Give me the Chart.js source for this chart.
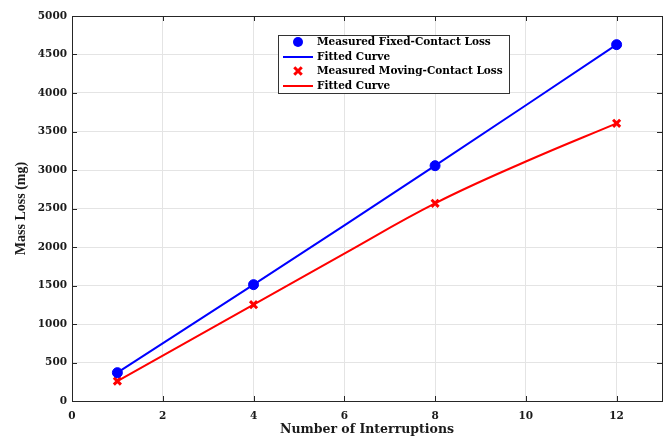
<!DOCTYPE html>
<html>
<head>
<meta charset="utf-8">
<script src="https://cdn.jsdelivr.net/npm/chart.js@4.4.1/dist/chart.umd.min.js"></script>
<style>
  html, body { margin: 0; padding: 0; background: #fff; overflow: hidden; }
</style>
</head>
<body>
<canvas id="lossChart" width="665" height="438"></canvas>
<script>
// measured values
const interruptions = [1, 4, 8, 12];
const fixedLoss = [368, 1511, 3056, 4628];
const movingLoss = [258, 1251, 2567, 3606];

// fitted curves
const fixedFitX = [1, 4, 8, 12];
const fixedFit = [368, 1511, 3056, 4628];
const movingFitX = [1, 4, 6, 8, 10, 12];
const movingFit = [258, 1251, 1915, 2567, 3110, 3606];

const xTicks = [0, 2, 4, 6, 8, 10, 12];
const yTicks = [0, 500, 1000, 1500, 2000, 2500, 3000, 3500, 4000, 4500, 5000];

const textColor = '#1a1a1a';
const fontFamily = '"DejaVu Serif", "Liberation Serif", serif';

function toPoints(xs, ys) {
    return xs.map((x, i) => ({ x: x, y: ys[i] }));
}

// axes box with inward ticks on all four sides
const boxPlugin = {
    id: 'box',
    afterDatasetsDraw(chart) {
        const { ctx, chartArea: a, scales } = chart;
        ctx.save();
        ctx.strokeStyle = '#262626';
        ctx.lineWidth = 1;
        ctx.beginPath();
        xTicks.forEach(v => {
            const px = Math.round(scales.x.getPixelForValue(v)) + 0.5;
            ctx.moveTo(px, a.bottom); ctx.lineTo(px, a.bottom - 5);
            ctx.moveTo(px, a.top); ctx.lineTo(px, a.top + 5);
        });
        yTicks.forEach(v => {
            const py = Math.round(scales.y.getPixelForValue(v)) + 0.5;
            ctx.moveTo(a.left, py); ctx.lineTo(a.left + 5, py);
            ctx.moveTo(a.right, py); ctx.lineTo(a.right - 5, py);
        });
        ctx.stroke();
        ctx.strokeRect(Math.round(a.left) + 0.5, Math.round(a.top) + 0.5,
            Math.round(a.right - a.left), Math.round(a.bottom - a.top));
        ctx.restore();
    }
};

// boxed legend like the MATLAB one
const legendPlugin = {
    id: 'boxLegend',
    afterDraw(chart) {
        const { ctx } = chart;
        const x0 = 278, y0 = 35, w = 231, h = 58;
        const rows = [42, 57, 71, 86];
        ctx.save();
        ctx.fillStyle = '#fff';
        ctx.fillRect(x0, y0, w, h);
        ctx.strokeStyle = '#333';
        ctx.lineWidth = 1;
        ctx.strokeRect(x0 + 0.5, y0 + 0.5, w, h);
        chart.data.datasets.forEach((ds, i) => {
            const y = rows[i];
            if (ds.showLine === false) {
                ctx.fillStyle = ds.pointBackgroundColor;
                ctx.strokeStyle = ds.pointBorderColor;
                ctx.lineWidth = ds.pointBorderWidth;
                ctx.beginPath();
                if (ds.pointStyle === 'circle') {
                    ctx.arc(298, y, ds.pointRadius, 0, Math.PI * 2);
                    ctx.fill();
                } else {
                    const r = ds.pointRadius * 0.75;
                    ctx.moveTo(298 - r, y - r); ctx.lineTo(298 + r, y + r);
                    ctx.moveTo(298 - r, y + r); ctx.lineTo(298 + r, y - r);
                    ctx.stroke();
                }
            } else {
                ctx.strokeStyle = ds.borderColor;
                ctx.lineWidth = ds.borderWidth;
                ctx.beginPath();
                ctx.moveTo(283, y); ctx.lineTo(313, y);
                ctx.stroke();
            }
            ctx.fillStyle = '#000';
            ctx.font = 'bold 10.5px ' + fontFamily;
            ctx.textBaseline = 'middle';
            ctx.textAlign = 'left';
            ctx.fillText(ds.label, 317, y + 0.5);
        });
        ctx.restore();
    }
};

const ctx = document.getElementById('lossChart').getContext('2d');
new Chart(ctx, {
    type: 'scatter',
    data: {
        datasets: [{
            label: 'Measured Fixed-Contact Loss',
            data: toPoints(interruptions, fixedLoss),
            showLine: false,
            pointStyle: 'circle',
            pointRadius: 5,
            pointBorderWidth: 1,
            pointBackgroundColor: '#0000ff',
            pointBorderColor: '#0000ff',
            order: 0
        }, {
            label: 'Fitted Curve',
            data: toPoints(fixedFitX, fixedFit),
            showLine: true,
            borderColor: '#0000ff',
            borderWidth: 2,
            pointRadius: 0,
            tension: 0.3,
            order: 1
        }, {
            label: 'Measured Moving-Contact Loss',
            data: toPoints(interruptions, movingLoss),
            showLine: false,
            pointStyle: 'crossRot',
            pointRadius: 5,
            pointBorderWidth: 3,
            pointBackgroundColor: '#ff0000',
            pointBorderColor: '#ff0000',
            order: 0
        }, {
            label: 'Fitted Curve',
            data: toPoints(movingFitX, movingFit),
            showLine: true,
            borderColor: '#ff0000',
            borderWidth: 2,
            pointRadius: 0,
            tension: 0.4,
            order: 1
        }]
    },
    options: {
        responsive: false,
        animation: false,
        layout: { autoPadding: false, padding: { top: 16, right: 3, left: 0, bottom: 0 } },
        plugins: {
            legend: { display: false },
            tooltip: { enabled: false }
        },
        scales: {
            x: {
                type: 'linear',
                min: 0,
                max: 13,
                afterBuildTicks: s => { s.ticks = xTicks.map(v => ({ value: v })); },
                afterFit: s => { s.height = 37; s.paddingLeft = 0; s.paddingRight = 0; },
                grid: { color: '#e4e4e4', drawTicks: false },
                border: { display: false },
                ticks: {
                    padding: 9,
                    color: textColor,
                    font: { family: fontFamily, size: 10.5, weight: 'bold' }
                },
                title: {
                    display: true,
                    text: 'Number of Interruptions',
                    color: textColor,
                    padding: { top: 0, bottom: 1 },
                    font: { family: fontFamily, size: 12.5, weight: 'bold' }
                }
            },
            y: {
                min: 0,
                max: 5000,
                afterBuildTicks: s => { s.ticks = yTicks.map(v => ({ value: v })); },
                afterFit: s => { s.width = 72; },
                grid: { color: '#e4e4e4', drawTicks: false },
                border: { display: false },
                ticks: {
                    padding: 5,
                    color: textColor,
                    callback: v => String(v),
                    font: { family: fontFamily, size: 10.5, weight: 'bold' }
                },
                title: {
                    display: true,
                    text: 'Mass Loss (mg)',
                    color: textColor,
                    padding: { top: 13, bottom: 0 },
                    font: { family: '"Liberation Serif", serif', size: 14, weight: 'bold' }
                }
            }
        }
    },
    plugins: [boxPlugin, legendPlugin]
});
</script>
</body>
</html>
